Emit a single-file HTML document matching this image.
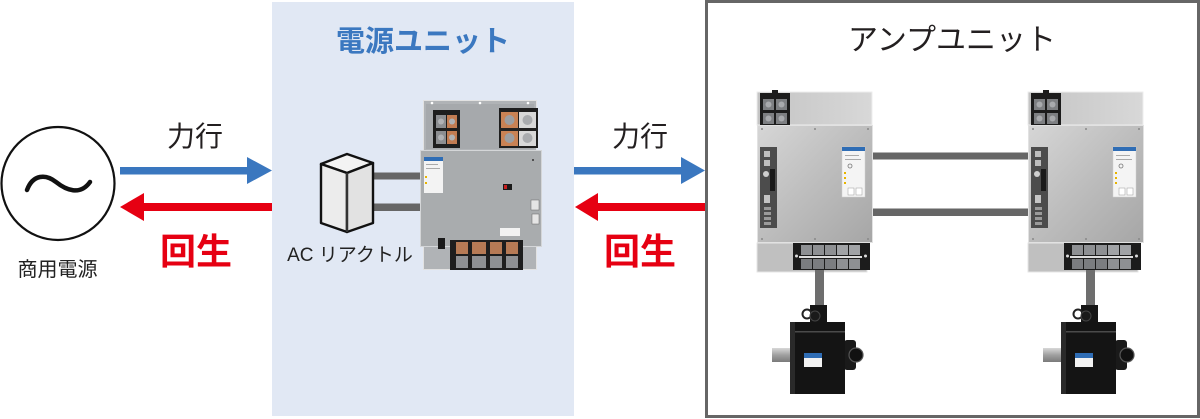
<!DOCTYPE html>
<html>
<head>
<meta charset="utf-8">
<style>
html,body{margin:0;padding:0;background:#fff;}
body{width:1200px;height:419px;overflow:hidden;position:relative;}
svg{position:absolute;left:0;top:0;}
text{font-family:"Liberation Sans","Noto Sans CJK JP",sans-serif;}
</style>
</head>
<body>
<svg width="1200" height="419" viewBox="0 0 1200 419" xmlns="http://www.w3.org/2000/svg">
<defs>
  <linearGradient id="ampPanel" x1="0" y1="0" x2="1" y2="1">
    <stop offset="0" stop-color="#d6d6d6"/>
    <stop offset="0.5" stop-color="#bdbdbd"/>
    <stop offset="1" stop-color="#a6a6a6"/>
  </linearGradient>
  <linearGradient id="ampBack" x1="0" y1="0" x2="1" y2="0">
    <stop offset="0" stop-color="#c4c4c4"/>
    <stop offset="1" stop-color="#d8d8d8"/>
  </linearGradient>
  <linearGradient id="shaft" x1="0" y1="0" x2="0" y2="1">
    <stop offset="0" stop-color="#d8d8d8"/>
    <stop offset="0.5" stop-color="#a0a0a0"/>
    <stop offset="1" stop-color="#7a7a7a"/>
  </linearGradient>
  <g id="amp">
    <rect x="757" y="92" width="115" height="33" fill="url(#ampBack)" stroke="#eeeeee" stroke-width="1"/>
    <rect x="757" y="243" width="110" height="29" fill="#c0c0c0" stroke="#e6e6e6" stroke-width="1"/>
    <rect x="760" y="93" width="30" height="34" fill="#1c1c1c"/>
    <rect x="763" y="99" width="11" height="11" fill="#7d7f82"/>
    <rect x="776" y="99" width="11" height="11" fill="#7d7f82"/>
    <rect x="763" y="113" width="11" height="11" fill="#7d7f82"/>
    <rect x="776" y="113" width="11" height="11" fill="#7d7f82"/>
    <circle cx="768.5" cy="104.5" r="3" fill="#a8aaad"/>
    <circle cx="781.5" cy="104.5" r="3" fill="#a8aaad"/>
    <circle cx="768.5" cy="118.5" r="3" fill="#a8aaad"/>
    <circle cx="781.5" cy="118.5" r="3" fill="#a8aaad"/>
    <rect x="772" y="90" width="6" height="4" fill="#1c1c1c"/>
    <rect x="757.5" y="125.5" width="115" height="117" fill="url(#ampPanel)" stroke="#e2e2e2" stroke-width="1"/>
    <circle cx="762" cy="129" r="1" fill="#888"/><circle cx="815" cy="129" r="1" fill="#888"/><circle cx="868" cy="129" r="1" fill="#888"/>
    <circle cx="762" cy="239" r="1" fill="#888"/><circle cx="815" cy="239" r="1" fill="#888"/><circle cx="868" cy="239" r="1" fill="#888"/>
    <rect x="760" y="147" width="17" height="81" fill="#4c4c4c"/>
    <rect x="764" y="151" width="6" height="6" fill="#bdbdbd"/>
    <rect x="764" y="160" width="6" height="6" fill="#bdbdbd"/>
    <circle cx="766" cy="174" r="3" fill="#cfcfcf"/>
    <rect x="770" y="169" width="5" height="22" fill="#1a1a1a"/>
    <rect x="764" y="195" width="6" height="8" fill="#c4c4c4"/>
    <rect x="764" y="207" width="7" height="3" fill="#9a9a9a"/>
    <rect x="764" y="212" width="7" height="3" fill="#9a9a9a"/>
    <rect x="764" y="217" width="7" height="3" fill="#9a9a9a"/>
    <rect x="764" y="222" width="7" height="3" fill="#9a9a9a"/>
    <rect x="842" y="147" width="23" height="50" fill="#f4f4f4" stroke="#d0d0d0" stroke-width="0.5"/>
    <rect x="842" y="147" width="23" height="4" fill="#2f6db5"/>
    <rect x="845" y="155" width="14" height="1" fill="#aaa"/>
    <rect x="845" y="159" width="16" height="1" fill="#aaa"/>
    <circle cx="850" cy="166" r="2" fill="none" stroke="#777" stroke-width="0.8"/>
    <rect x="844" y="172" width="2" height="2" fill="#e8b400"/>
    <rect x="844" y="177" width="2" height="2" fill="#e8b400"/>
    <rect x="844" y="182" width="2" height="2" fill="#e8b400"/>
    <rect x="848" y="188" width="6" height="7" fill="#fff" stroke="#999" stroke-width="0.5"/>
    <rect x="856" y="188" width="6" height="7" fill="#fff" stroke="#999" stroke-width="0.5"/>
    <rect x="793" y="243" width="77" height="27" fill="#1c1c1c"/>
    <rect x="801" y="245" width="11" height="10" fill="#8e9093"/>
    <rect x="813" y="245" width="11" height="10" fill="#8e9093"/>
    <rect x="825" y="245" width="11" height="10" fill="#8e9093"/>
    <rect x="837" y="245" width="11" height="10" fill="#a1a3a6"/>
    <rect x="849" y="245" width="11" height="10" fill="#a1a3a6"/>
    <rect x="799" y="256" width="63" height="2" fill="#dddddd"/>
    <rect x="801" y="259" width="11" height="10" fill="#7b7d80"/>
    <rect x="813" y="259" width="11" height="10" fill="#7b7d80"/>
    <rect x="825" y="259" width="11" height="10" fill="#7b7d80"/>
    <rect x="837" y="259" width="11" height="10" fill="#8e9093"/>
    <rect x="849" y="259" width="11" height="10" fill="#8e9093"/>
    <circle cx="796.5" cy="256" r="1.5" fill="#ddd"/>
    <circle cx="865.5" cy="256" r="1.5" fill="#ddd"/>
    <rect x="815" y="270" width="9" height="36" fill="#6e6e6e"/>
    <rect x="772" y="348" width="19" height="14" fill="url(#shaft)"/>
    <rect x="844" y="340" width="12" height="30" rx="3" fill="#1a1a1a"/>
    <circle cx="856" cy="355" r="7" fill="#111" stroke="#555" stroke-width="1.2"/>
    <rect x="810" y="305" width="17" height="18" fill="#151515"/>
    <circle cx="807" cy="314" r="4.5" fill="none" stroke="#222" stroke-width="2"/>
    <circle cx="815" cy="316" r="5" fill="#1a1a1a" stroke="#444" stroke-width="1"/>
    <rect x="790" y="322" width="55" height="72" fill="#141414"/>
    <rect x="790" y="322" width="5" height="72" fill="#2a2a2a"/>
    <rect x="795" y="331" width="50" height="1.5" fill="#4a4a4a"/>
    <rect x="804" y="353" width="18" height="14" fill="#f2f2f2"/>
    <rect x="804" y="353" width="18" height="5" fill="#2f6db5"/>
  </g>
</defs>

<rect x="272" y="2" width="302" height="414" fill="#e1e8f4"/>

<rect x="706.5" y="1.5" width="492" height="415" fill="#ffffff" stroke="#666666" stroke-width="3"/>

<circle cx="58" cy="183.5" r="56.5" fill="#ffffff" stroke="#111" stroke-width="2.2"/>
<path d="M27,190 C33,174 46,174 56,182 C66,190 80,196 90,182" fill="none" stroke="#111" stroke-width="4.5" stroke-linecap="round"/>
<text x="57.5" y="276" font-size="20" text-anchor="middle" fill="#222">商用電源</text>

<rect x="120" y="167" width="130" height="7.5" fill="#3a77bf"/>
<polygon points="247,157 272,170.5 247,184" fill="#3a77bf"/>
<rect x="142" y="203" width="130" height="8" fill="#e60012"/>
<polygon points="144,193 120,207 144,221" fill="#e60012"/>
<text x="195" y="146" font-size="28" text-anchor="middle" fill="#231f20">力行</text>
<text x="196" y="264" font-size="36" font-weight="bold" text-anchor="middle" fill="#e60012">回生</text>

<text x="423" y="51" font-size="29" font-weight="bold" text-anchor="middle" fill="#3b78c0">電源ユニット</text>

<rect x="370" y="172.5" width="54" height="7" fill="#666666"/>
<rect x="370" y="203.5" width="54" height="7.5" fill="#666666"/>

<polygon points="321,164 347,154 373,163 347,173" fill="#f3f3f3" stroke="#111" stroke-width="2.4" stroke-linejoin="round"/>
<polygon points="321,164 347,173 347,232 321,223" fill="#ececec" stroke="#111" stroke-width="2.4" stroke-linejoin="round"/>
<polygon points="347,173 373,163 373,223 347,232" fill="#e2e2e2" stroke="#111" stroke-width="2.4" stroke-linejoin="round"/>
<line x1="347" y1="173" x2="347" y2="232" stroke="#555" stroke-width="1"/>
<text x="350" y="261" font-size="19" text-anchor="middle" fill="#222">AC リアクトル</text>

<g>
  <rect x="423.5" y="100.5" width="113" height="169" fill="#b0b3b6" stroke="#e2e2e2" stroke-width="1"/>
  <rect x="426" y="104" width="108" height="45" fill="#a6a9ac"/>
  <circle cx="432" cy="103" r="1.3" fill="#fff"/><circle cx="480" cy="103" r="1.3" fill="#fff"/><circle cx="528" cy="103" r="1.3" fill="#fff"/>
  <rect x="433" y="110" width="27" height="38" fill="#1e1e1e"/>
  <rect x="436" y="115" width="10" height="13" fill="#8c8e91"/>
  <rect x="447" y="115" width="10" height="13" fill="#c27c52"/>
  <rect x="436" y="131" width="10" height="13" fill="#8c8e91"/>
  <rect x="447" y="131" width="10" height="13" fill="#c27c52"/>
  <circle cx="441" cy="121.5" r="3" fill="#b0b2b5"/><circle cx="452" cy="121.5" r="3" fill="#b0b2b5"/>
  <circle cx="441" cy="137.5" r="3" fill="#b0b2b5"/><circle cx="452" cy="137.5" r="3" fill="#b0b2b5"/>
  <rect x="499" y="108" width="39" height="40" fill="#1e1e1e"/>
  <rect x="501" y="112" width="17" height="34" fill="#c98254"/>
  <rect x="519" y="112" width="17" height="34" fill="#d8d8d8"/>
  <rect x="499" y="128" width="39" height="3" fill="#222"/>
  <circle cx="509.5" cy="120" r="5" fill="#9c9ea1"/><circle cx="527.5" cy="120" r="5" fill="#a9abae"/>
  <circle cx="509.5" cy="138" r="5" fill="#9c9ea1"/><circle cx="527.5" cy="138" r="5" fill="#a9abae"/>
  <rect x="420.5" y="150.5" width="121" height="96" fill="#a9acae" stroke="#d4d6d8" stroke-width="1"/>
  <rect x="424" y="157" width="19" height="36" fill="#f3f3f3"/>
  <rect x="424" y="157" width="19" height="4" fill="#2f6db5"/>
  <rect x="426" y="164" width="12" height="1" fill="#aaa"/>
  <rect x="426" y="168" width="14" height="1" fill="#aaa"/>
  <rect x="425" y="176" width="2" height="2" fill="#e8b400"/>
  <rect x="425" y="182" width="2" height="2" fill="#e8b400"/>
  <rect x="503" y="184" width="9" height="6" fill="#1a1a1a"/>
  <rect x="504" y="185" width="3" height="4" fill="#c82020"/>
  <rect x="531" y="200" width="8" height="10" fill="#e5e5e5" stroke="#666" stroke-width="0.5"/>
  <rect x="532" y="214" width="7" height="10" fill="#e5e5e5" stroke="#666" stroke-width="0.5"/>
  <rect x="500" y="228" width="20" height="8" fill="#f2f2f2"/>
  <circle cx="533" cy="160" r="1" fill="#333"/>
  <rect x="438" y="238" width="7" height="11" fill="#1a1a1a"/>
  <rect x="450" y="240" width="73" height="30" fill="#1e1e1e"/>
  <rect x="456" y="242" width="12" height="12" fill="#b67a55"/>
  <rect x="472" y="242" width="14" height="12" fill="#b67a55"/>
  <rect x="490" y="242" width="12" height="12" fill="#b67a55"/>
  <rect x="506" y="242" width="12" height="12" fill="#b67a55"/>
  <rect x="456" y="256" width="12" height="12" fill="#8e9093"/>
  <rect x="472" y="256" width="14" height="12" fill="#8e9093"/>
  <rect x="490" y="256" width="12" height="12" fill="#8e9093"/>
  <rect x="506" y="256" width="12" height="12" fill="#8e9093"/>
</g>

<rect x="574" y="167" width="110" height="7.5" fill="#3a77bf"/>
<polygon points="681,157 705,170.5 681,184" fill="#3a77bf"/>
<rect x="596" y="203" width="109" height="8" fill="#e60012"/>
<polygon points="598,193 575,207 598,221" fill="#e60012"/>
<text x="640" y="146" font-size="28" text-anchor="middle" fill="#231f20">力行</text>
<text x="640" y="264" font-size="36" font-weight="bold" text-anchor="middle" fill="#e60012">回生</text>

<text x="952" y="50" font-size="30" text-anchor="middle" fill="#231f20">アンプユニット</text>

<rect x="870" y="152.5" width="160" height="7" fill="#666666"/>
<rect x="870" y="208.5" width="160" height="7.5" fill="#666666"/>

<use href="#amp"/>
<use href="#amp" transform="translate(271,0)"/>
</svg>
</body>
</html>
